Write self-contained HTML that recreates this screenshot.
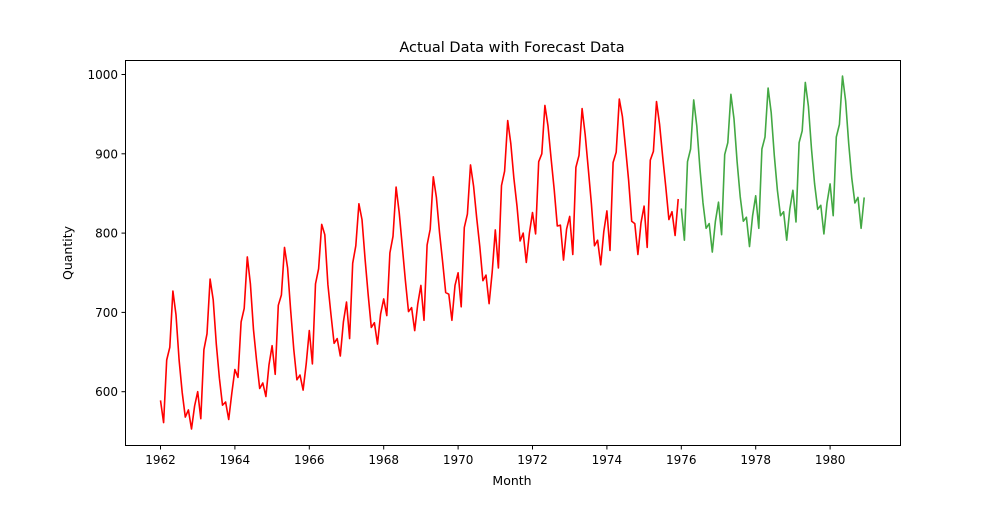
<!DOCTYPE html>
<html><head><meta charset="utf-8"><style>
body{margin:0;background:#fff;}
svg text{font-family:"DejaVu Sans","Liberation Sans",sans-serif;fill:#000;}
</style></head><body>
<svg id="chart" width="1000" height="500">
<rect width="1000" height="500" fill="#fff"/>
<text x="512" y="52" font-size="14.5" text-anchor="middle">Actual Data with Forecast Data</text>
<text x="512" y="485" font-size="12.5" text-anchor="middle">Month</text>
<text transform="translate(72,253) rotate(-90)" font-size="12.5" text-anchor="middle">Quantity</text>
<g id="plot"></g>
</svg>
<script>
const actualStartYear = 1962;
const actual = [589,561,640,656,727,697,640,599,568,577,553,582,
600,566,653,673,742,716,660,617,583,587,565,598,
628,618,688,705,770,736,678,639,604,611,594,634,
658,622,709,722,782,756,702,653,615,621,602,635,
677,635,736,755,811,798,735,697,661,667,645,688,
713,667,762,784,837,817,767,722,681,687,660,698,
717,696,775,796,858,826,783,740,701,706,677,711,
734,690,785,805,871,845,801,764,725,723,690,734,
750,707,807,824,886,859,819,783,740,747,711,751,
804,756,860,878,942,913,869,834,790,800,763,800,
826,799,890,900,961,935,894,855,809,810,766,805,
821,773,883,898,957,924,881,837,784,791,760,802,
828,778,889,902,969,947,908,867,815,812,773,813,
834,782,892,903,966,937,896,858,817,827,797,843];
const forecastStartYear = 1976;
const forecast = [831,791,890,906,968,935,882,838,806,812,776,815,
839,798,899,914,975,944,890,846,815,820,783,822,
847,806,906,921,983,952,898,854,822,827,791,830,
854,814,914,929,990,960,906,862,830,835,799,838,
862,822,921,937,998,967,913,869,838,845,806,845];
const xTicks = [1962,1964,1966,1968,1970,1972,1974,1976,1978,1980];
const yTicks = [600,700,800,900,1000];

const ns="http://www.w3.org/2000/svg";
const g=document.getElementById('plot');
const X=t=>160.5+(t-1962)*37.2;
const Y=v=>391.7-(v-600)*0.793;
function el(tag,attrs){const e=document.createElementNS(ns,tag);for(const k in attrs)e.setAttribute(k,attrs[k]);g.appendChild(e);return e;}
function series(arr,startYear,color,name){
  const pts=arr.map((v,i)=>X(startYear+i/12).toFixed(1)+','+Y(v).toFixed(1)).join(' ');
  const p=el('polyline',{points:pts,fill:'none',stroke:color,'stroke-width':1.6,'stroke-linejoin':'round'});
  
  
}
series(actual,actualStartYear,'#ff0000','actual-line');
series(forecast,forecastStartYear,'#43a843','forecast-line');
const frame=el('rect',{x:125.5,y:60.5,width:775,height:385,fill:'none',stroke:'#000','stroke-width':1});


xTicks.forEach(t=>{
  const x=X(t);
  el('line',{x1:x,x2:x,y1:445.5,y2:449.5,stroke:'#000'});
  const tx=el('text',{x:x,y:464,'font-size':12,'text-anchor':'middle'});
  tx.textContent=t;
  
  
});
yTicks.forEach(v=>{
  const y=Y(v);
  el('line',{x1:121.5,x2:125.5,y1:y,y2:y,stroke:'#000'});
  const tx=el('text',{x:118,y:y+4.5,'font-size':12,'text-anchor':'end'});
  tx.textContent=v;
  
  
});
</script>
</body></html>
